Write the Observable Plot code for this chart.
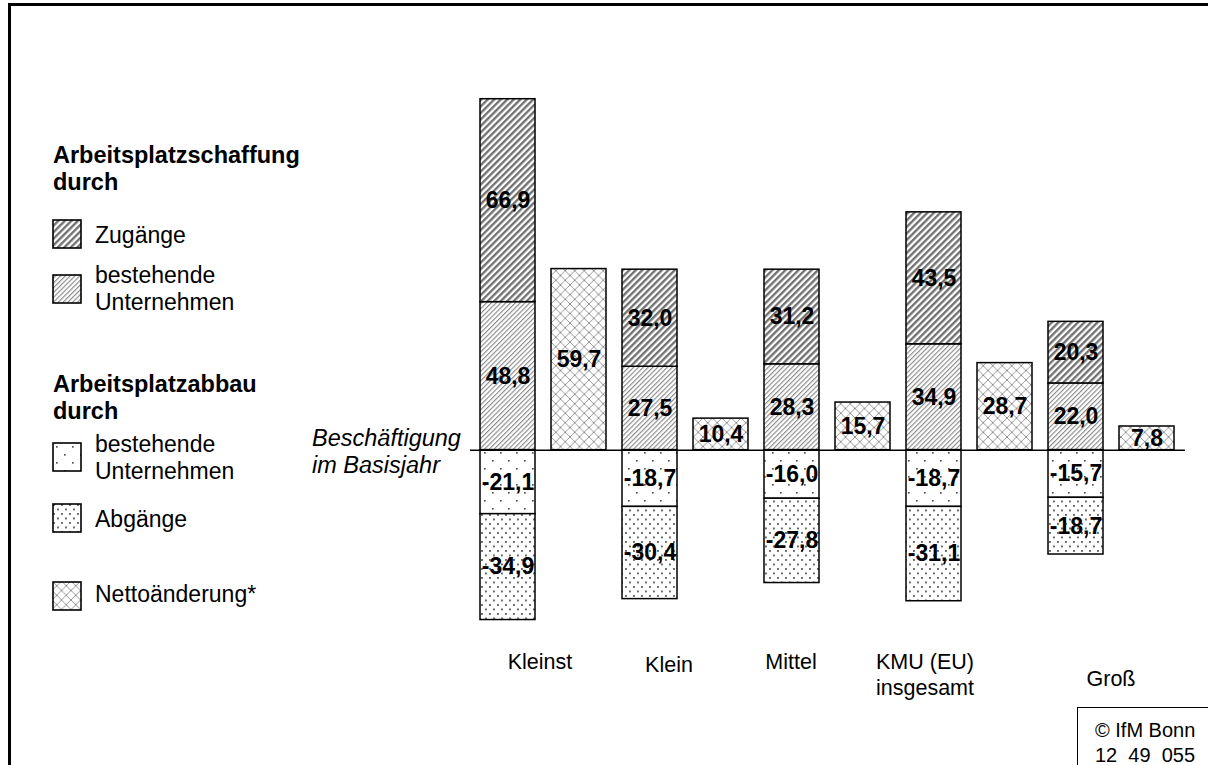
<!DOCTYPE html>
<html>
<head>
<meta charset="utf-8">
<script src="https://cdn.jsdelivr.net/npm/d3@7"></script>
<script src="https://cdn.jsdelivr.net/npm/@observablehq/plot@0.6"></script>
<style>
  html, body { margin: 0; padding: 0; background: #fff; overflow: hidden; }
  body { font-family: "Liberation Sans", Arial, sans-serif; color: #000; }
  #wrap { position: relative; width: 1208px; height: 765px; overflow: hidden; }
  #frame { position: absolute; left: 8px; top: 3px; width: 1300px; height: 900px; border-left: 3px solid #000; border-top: 3px solid #000; }
  #chart { position: absolute; left: 0; top: 0; }
  .abs { position: absolute; white-space: nowrap; }
  .head { font-weight: bold; font-size: 23.5px; line-height: 27px; }
  .item { font-size: 23px; line-height: 27px; }
  .sw { position: absolute; }
  #basis { font-style: italic; font-size: 23.5px; line-height: 27px; }
  #copy { position: absolute; left: 1077px; top: 707px; width: 200px; height: 100px; border-left: 1.5px solid #000; border-top: 1.5px solid #000; }
  #copytxt { font-size: 20px; line-height: 25px; white-space: pre; }
</style>
</head>
<body>
<svg width="0" height="0" style="position:absolute">
  <defs>
    <pattern id="pZug" patternUnits="userSpaceOnUse" width="4.6" height="4.6" patternTransform="rotate(45)">
      <rect width="4.6" height="4.6" fill="#fff"/>
      <line x1="1.2" y1="0" x2="1.2" y2="4.6" stroke="#6e6e6e" stroke-width="2.3"/>
    </pattern>
    <pattern id="pBest" patternUnits="userSpaceOnUse" width="3.4" height="3.4" patternTransform="rotate(45)">
      <rect width="3.4" height="3.4" fill="#fff"/>
      <line x1="0.6" y1="0" x2="0.6" y2="3.4" stroke="#7a7a7a" stroke-width="1"/>
    </pattern>
    <pattern id="pDotS" patternUnits="userSpaceOnUse" width="16" height="16">
      <rect width="16" height="16" fill="#fff"/>
      <rect x="4" y="4" width="1.7" height="1.7" fill="#555"/>
      <rect x="12" y="12" width="1.7" height="1.7" fill="#555"/>
    </pattern>
    <pattern id="pDotD" patternUnits="userSpaceOnUse" width="8" height="9">
      <rect width="8" height="9" fill="#fff"/>
      <rect x="1" y="1" width="1.9" height="1.9" fill="#666"/>
      <rect x="5" y="5.5" width="1.9" height="1.9" fill="#666"/>
    </pattern>
    <pattern id="pNet" patternUnits="userSpaceOnUse" width="9.5" height="9.5">
      <rect width="9.5" height="9.5" fill="#fff"/>
      <path d="M0,0L9.5,9.5M9.5,0L0,9.5" stroke="#8a8a8a" stroke-width="0.9" fill="none"/>
    </pattern>
  </defs>
</svg>
<div id="wrap">
  <div id="chart"></div>
  <div id="frame"></div>
  <div id="legend"></div>
  <div id="basis" class="abs" style="left:312px; top:425px;">Beschäftigung<br>im Basisjahr</div>
  <div id="copy"><div id="copytxt" class="abs" style="left:17px; top:10px;">© IfM Bonn
12  49  055</div></div>
</div>
<script>
// ---- data ----
const categories = ["Kleinst", "Klein", "Mittel", "KMU (EU)\ninsgesamt", "Groß"];
const bestehendeSchaffung = [48.8, 27.5, 28.3, 34.9, 22.0];
const zugaenge = [66.9, 32.0, 31.2, 43.5, 20.3];
const bestehendeAbbau = [-21.1, -18.7, -16.0, -18.7, -15.7];
const abgaenge = [-34.9, -30.4, -27.8, -31.1, -18.7];
const netto = [59.7, 10.4, 15.7, 28.7, 7.8];

const legendHeads = ["Arbeitsplatzschaffung\ndurch", "Arbeitsplatzabbau\ndurch"];
const legendLabels = ["Zugänge", "bestehende\nUnternehmen", "bestehende\nUnternehmen", "Abgänge", "Nettoänderung*"];

const fills = {
  zug: "url(#pZug)", bestS: "url(#pBest)", bestA: "url(#pDotS)", abg: "url(#pDotD)", net: "url(#pNet)"
};

// ---- build stacked rows ----
const rows = [];
categories.forEach((c, i) => {
  const s = c + "|s", n = c + "|n";
  let pos = 0, neg = 0;
  [["bestS", bestehendeSchaffung[i]], ["zug", zugaenge[i]]].forEach(([k, v]) => {
    rows.push({slot: s, key: k, v, y1: pos, y2: pos + v}); pos += v;
  });
  [["bestA", bestehendeAbbau[i]], ["abg", abgaenge[i]]].forEach(([k, v]) => {
    rows.push({slot: s, key: k, v, y1: neg, y2: neg + v}); neg += v;
  });
  rows.push({slot: n, key: "net", v: netto[i], y1: 0, y2: netto[i]});
});
const slots = categories.flatMap(c => [c + "|s", c + "|n"]);
const fmt = v => v.toFixed(1).replace(".", ",");

// category label nudges (reference placement)
const catPlace = [
  {dx: 32, y: -69.5},
  {dx: 19, y: -70.5},
  {dx: -1, y: -69.5},
  {dx: -9, y: -73.8},
  {dx: 35, y: -75.0}
];

const marks = [
  Plot.barY(rows, {x: "slot", y1: "y1", y2: "y2", fill: d => fills[d.key], stroke: "#000", strokeWidth: 1.5}),
  Plot.ruleY([0], {stroke: "#000", strokeWidth: 1.5, insetLeft: 9, insetRight: 8}),
  Plot.text(rows, {x: "slot", y: d => (d.y1 + d.y2) / 2, text: d => fmt(d.v), fontSize: 23, fontWeight: "bold", fill: "#000"}),
  ...categories.map((c, i) => Plot.text([c], {
    x: d => d + "|s", y: () => catPlace[i].y, text: d => d, dx: catPlace[i].dx,
    fontSize: 21.5, fill: "#000", lineHeight: 1.2
  }))
];

const chart = Plot.plot({
  width: 1208,
  height: 765,
  marginLeft: 461,
  marginRight: 15,
  marginTop: 25,
  marginBottom: 12,
  x: {type: "band", domain: slots, padding: 0.22, axis: null},
  y: {domain: [-100, 140], axis: null},
  color: {type: "identity"},
  style: {fontFamily: "'Liberation Sans', Arial, sans-serif", background: "transparent", overflow: "visible"},
  marks
});
document.getElementById("chart").appendChild(chart);

// ---- legend (HTML) ----
const legend = document.getElementById("legend");
function addDiv(cls, left, top, html) {
  const d = document.createElement("div");
  d.className = "abs " + cls;
  d.style.left = left + "px"; d.style.top = top + "px";
  d.innerHTML = html;
  legend.appendChild(d);
}
function addSwatch(top, fill) {
  const ns = "http://www.w3.org/2000/svg";
  const s = document.createElementNS(ns, "svg");
  s.setAttribute("width", 30); s.setAttribute("height", 30);
  s.setAttribute("class", "sw");
  s.style.left = "52px"; s.style.top = (top - 1) + "px";
  s.style.position = "absolute";
  const r = document.createElementNS(ns, "rect");
  r.setAttribute("x", 1); r.setAttribute("y", 1);
  r.setAttribute("width", 28); r.setAttribute("height", 28);
  r.setAttribute("fill", fill); r.setAttribute("stroke", "#000"); r.setAttribute("stroke-width", 1.6);
  s.appendChild(r);
  legend.appendChild(s);
}
const br = t => t.replace("\n", "<br>");
addDiv("head", 53, 142, br(legendHeads[0]));
addSwatch(220, fills.zug);
addDiv("item", 95, 222, br(legendLabels[0]));
addSwatch(275, fills.bestS);
addDiv("item", 95, 262, br(legendLabels[1]));
addDiv("head", 53, 371, br(legendHeads[1]));
addSwatch(443, fills.bestA);
addDiv("item", 95, 431, br(legendLabels[2]));
addSwatch(504, fills.abg);
addDiv("item", 95, 506, br(legendLabels[3]));
addSwatch(582, fills.net);
addDiv("item", 95, 581, br(legendLabels[4]));
</script>
</body>
</html>
